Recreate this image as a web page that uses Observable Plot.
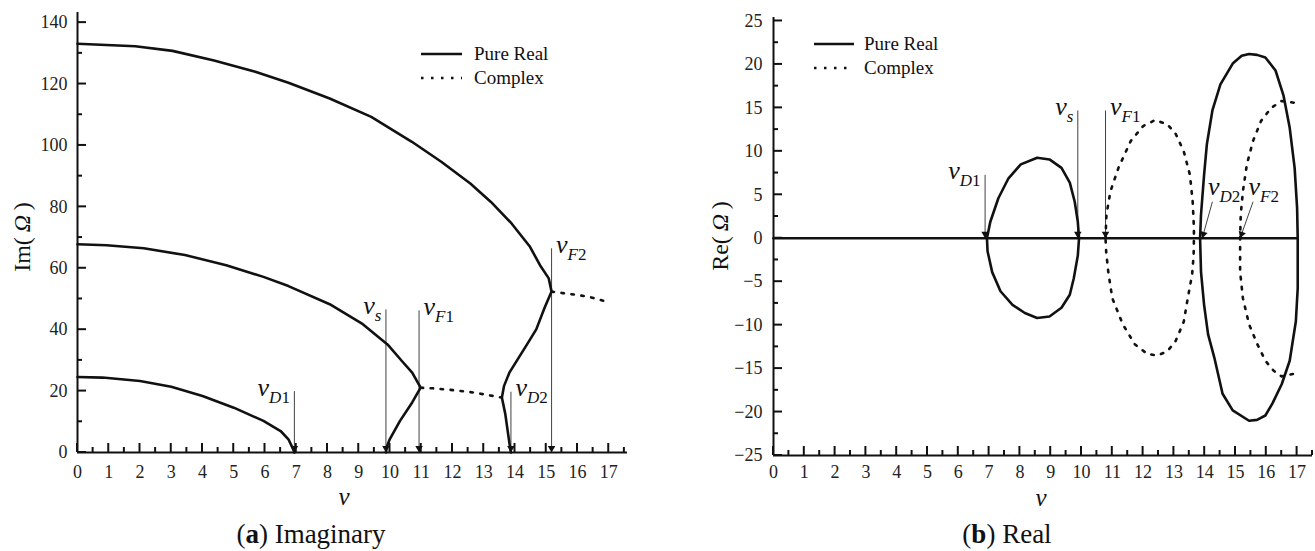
<!DOCTYPE html>
<html><head><meta charset="utf-8">
<script src="https://cdn.jsdelivr.net/npm/d3@7"></script>
<script src="https://cdn.jsdelivr.net/npm/@observablehq/plot@0.6"></script>
<style>
body{margin:0;background:#fff;width:1315px;height:551px;position:relative;overflow:hidden;font-family:"Liberation Serif",serif;}
#left,#right{position:absolute;top:0;}
#left{left:0px} #right{left:660px}
.cap{position:absolute;top:517px;font-size:27px;line-height:34px;transform:translateX(-50%);white-space:nowrap;color:#111;font-family:"Liberation Serif",serif;}
</style></head><body>
<div id="left"></div><div id="right"></div>
<div class="cap" style="left:311px">(<b>a</b>) Imaginary</div>
<div class="cap" style="left:1007px">(<b>b</b>) Real</div>
<script>
// ---------- shared tick labels ----------
const xTicks = [0,1,2,3,4,5,6,7,8,9,10,11,12,13,14,15,16,17];
const xMinor = [0.5,1.5,2.5,3.5,4.5,5.5,6.5,7.5,8.5,9.5,10.5,11.5,12.5,13.5,14.5,15.5,16.5,17.5];

// ---------- (a) Imaginary ----------
const imYTicks = [0,20,40,60,80,100,120,140];
const imYMinor = [10,30,50,70,90,110,130];

// mode 1 (pure real)
const im1V = [0,0.8,2.0,3.0,4.0,5.0,5.95,6.5,6.75,6.9,6.94];
const im1  = [24.6,24.4,23.3,21.4,18.4,14.6,10.3,7.0,4.3,1.1,0];
// mode 2 (pure real)
const im2V = [0,0.93,2.12,3.44,4.76,5.95,6.75,8.07,9.13,9.92,10.38,10.71,10.98,10.71,10.32,9.99,9.89,9.87];
const im2  = [67.8,67.5,66.5,64.3,61,57.2,54.2,48.3,41.8,35.2,29.8,26,21.1,16.3,10.3,4.3,1.6,0];
// mode 2 (complex)
const im2cV = [10.98,11.38,12.04,12.7,13.2,13.58];
const im2c  = [21.1,20.9,20.3,19.5,18.6,17.9];
// mode 3 (pure real)
const im3V = [13.87,13.85,13.78,13.69,13.58,13.65,13.82,14.09,14.42,14.68,14.95,15.17,15.08,14.8,14.48,13.89,13.23,12.57,11.64,10.7,9.4,8.07,6.75,5.69,4.37,3.04,1.85,0];
const im3  = [0,1.1,6,12.5,17.9,21.7,26,30.4,35.8,40.1,47.2,52.4,56.7,61,67,74.6,81.6,87.6,94.7,101.2,109.3,115.3,120.4,124,127.7,130.8,132.3,133.1];
// mode 3 (complex)
const im3cV = [15.17,15.54,16.0,16.4,16.87];
const im3c  = [52.4,51.9,51.3,50.6,49.3];

// critical speed markers
const imMarkV   = [6.94,9.87,10.93,13.87,15.17];
const imMarkTop = [20,46.6,46.3,19.8,66.5];
const markSub   = ["D1","s","F1","D2","F2"];
const markSide  = ["left","left","right","right","right"];

// ---------- (b) Real ----------
const reYTicks = [-25,-20,-15,-10,-5,0,5,10,15,20,25];
const reYMinor = [-22.5,-17.5,-12.5,-7.5,-2.5,2.5,7.5,12.5,17.5,22.5];

const reZeroV = [0,17];
const reZero  = [0,0];
// loop 1 (pure real)
const re1V = [6.93,7.04,7.3,7.63,8.03,8.56,8.96,9.35,9.62,9.78,9.88,9.92,9.88,9.75,9.62,9.35,8.96,8.56,8.16,7.76,7.37,7.1,6.95,6.93];
const re1  = [0,1.9,4.6,6.9,8.5,9.26,9.07,8.1,6.4,4.2,1.9,0,-2.0,-4.6,-6.5,-8.0,-9.0,-9.17,-8.6,-7.66,-6.1,-3.9,-1.5,0];
// loop 2 (complex)
const re2V = [10.78,10.81,10.94,11.2,11.6,12,12.39,12.79,13.06,13.32,13.52,13.61,13.65,13.65,13.64,13.59,13.45,13.32,13.06,12.79,12.46,12.13,11.73,11.34,11,10.87,10.8,10.78];
const re2  = [0,2.7,5.4,8.1,11.2,12.9,13.6,13.1,12,10,7.3,4.2,1.2,0,-2,-4.2,-6.9,-9.6,-11.8,-13,-13.5,-13.3,-12.2,-9.9,-6.9,-3.9,-1.5,0];
// loop 3 (pure real)
const re3V = [13.85,13.88,13.98,14.07,14.25,14.51,14.91,15.2,15.44,15.7,15.97,16.3,16.56,16.76,16.92,17,17.02,17.02,16.96,16.76,16.5,16.2,15.97,15.7,15.44,14.91,14.58,14.31,14.11,13.98,13.88,13.85];
const re3  = [0,2.7,7.3,10.8,14.7,17.7,20.1,21,21.2,21.1,20.8,19.3,16.4,12.7,8.1,3.5,0,-5.76,-9.55,-14.1,-16.8,-19.0,-20.4,-20.9,-21.0,-19.8,-17.9,-13.7,-11.07,-7.66,-3.86,0];
// loop 4 (complex)
const re4V = [16.89,16.5,16.16,15.83,15.57,15.37,15.24,15.17,15.15,15.15,15.24,15.44,15.71,15.97,16.24,16.5,16.89];
const re4  = [15.6,15.8,15,13.5,11.2,8.5,5.4,2.7,0,-3.86,-6.9,-9.9,-12.2,-14.1,-15.25,-15.9,-15.6];

// markers (arrow start -> tip on the axis)
const reMarkV0  = [6.87,9.88,10.78,14.25,15.57];
const reMarkV1  = [6.87,9.88,10.78,13.92,15.15];
const reMarkTop = [7.3,14.7,14.7,4.2,4.2];
const reMarkSide = ["left","left","right","slant","slant"];

// ---------- helpers ----------
const INK = "#111";
const LW = 2.6;
const DOT = "2.5,7.5";
const styleBase = {fontFamily: "Liberation Serif", fontSize: "18px", color: "#222", background: "white", overflow: "visible"};
const fmt = d => d < 0 ? "\u2212" + Math.abs(d) : String(d);

// filled arrow heads (triangles) at the tips of marker arrows
function headMarks(table, kxPx, kyPx) {
  const r = 2.8, back = 1.55 * r;
  return table.map(m => {
    const ang = Math.atan2((m.v0 - m.v1) * kxPx, m.top * kyPx); // lean from vertical, pixels
    return Plot.dot([m], {x: "v1", y: 0, symbol: "triangle", r, fill: INK, stroke: "none",
      rotate: 180 + ang * 180 / Math.PI,
      dx: back * Math.sin(ang), dy: -back * Math.cos(ang)});
  });
}

// inward axis ticks, placed through the plot's own x and y scales
function addTicks(svg, sx, sy, x0, y0, yMajor, yMinor) {
  const g = d3.select(svg).append("g").attr("stroke", INK).attr("stroke-width", 2);
  const bx = sx.apply(x0), by = sy.apply(y0);
  [[xMinor, 5], [xTicks, 9]].forEach(([arr, len]) => arr.forEach(t => {
    const x = sx.apply(t);
    g.append("line").attr("stroke", INK).attr("x1", x).attr("x2", x).attr("y1", by).attr("y2", by - len);
  }));
  [[yMinor, 5], [yMajor, 9]].forEach(([arr, len]) => arr.forEach(t => {
    const y = sy.apply(t);
    g.append("line").attr("stroke", INK).attr("x1", bx).attr("x2", bx + len).attr("y1", y).attr("y2", y);
  }));
}

function addVLabel(svg, x, y, sub, anchor) {
  const t = d3.select(svg).append("text")
    .attr("x", x).attr("y", y)
    .attr("text-anchor", anchor)
    .attr("font-family", "Liberation Serif").attr("fill", INK);
  t.append("tspan").attr("font-style", "italic").attr("font-size", 26).text("v");
  const letter = sub.replace(/[0-9]/g, ""), digit = sub.replace(/[^0-9]/g, "");
  t.append("tspan").attr("font-style", "italic").attr("font-size", 17).attr("dy", 7).text(letter);
  if (digit) t.append("tspan").attr("font-size", 17).text(digit);
}

function addLegend(svg, x0, x1, tx, y0, y1) {
  const g = d3.select(svg).append("g");
  g.append("line").attr("x1", x0).attr("x2", x1).attr("y1", y0).attr("y2", y0)
    .attr("stroke", INK).attr("stroke-width", LW);
  g.append("line").attr("x1", x0).attr("x2", x1).attr("y1", y1).attr("y2", y1)
    .attr("stroke", INK).attr("stroke-width", LW).attr("stroke-dasharray", DOT);
  [["Pure Real", y0], ["Complex", y1]].forEach(([s, y]) => {
    g.append("text").attr("x", tx).attr("y", y).attr("dy", "0.32em").attr("text-anchor", "start")
      .attr("font-size", 19).attr("font-family", "Liberation Serif").attr("fill", INK).text(s);
  });
}

function addTitles(svg, yx, yy, yName, vx, vy) {
  const s = d3.select(svg);
  const t = s.append("text").attr("transform", `translate(${yx},${yy}) rotate(-90)`)
    .attr("text-anchor", "middle").attr("dy", "0.32em")
    .attr("font-size", 24).attr("font-family", "Liberation Serif").attr("fill", INK);
  t.append("tspan").text(yName + "(");
  t.append("tspan").attr("font-style", "italic").text("\u2009\u03A9\u2009");
  t.append("tspan").text(")");
  s.append("text").attr("x", vx).attr("y", vy).attr("text-anchor", "middle").attr("dy", "0.32em")
    .attr("font-size", 25).attr("font-style", "italic").attr("font-family", "Liberation Serif")
    .attr("fill", INK).text("v");
}

// ---------- (a) ----------
{
  const width = 650, height = 510, mT = 12, mL = 77, mR = 23, mB = 58;
  const W = width - mL - mR, H = height - mT - mB;
  const xDom = [0, 17.6], yDom = [0, 143.3];
  const imMarks = imMarkV.map((v, i) => ({v0: v, v1: v, top: imMarkTop[i]}));
  const plot = Plot.plot({
    width, height, marginTop: mT, marginLeft: mL, marginRight: mR, marginBottom: mB,
    x: {domain: xDom},
    y: {domain: yDom},
    style: styleBase,
    marks: [
      Plot.axisX({ticks: xTicks, tickSize: 0, tickPadding: 13, fontSize: 18, label: null, tickFormat: fmt}),
      Plot.axisY({ticks: imYTicks, tickSize: 0, tickPadding: 10, fontSize: 18, label: null, tickFormat: fmt}),
      Plot.ruleX([0], {stroke: INK, strokeWidth: 2}),
      Plot.ruleY([0], {stroke: INK, strokeWidth: 2}),
      Plot.line(im1, {x: im1V, y: im1, stroke: INK, strokeWidth: LW}),
      Plot.line(im2, {x: im2V, y: im2, stroke: INK, strokeWidth: LW}),
      Plot.line(im3, {x: im3V, y: im3, stroke: INK, strokeWidth: LW}),
      Plot.line(im2c, {x: im2cV, y: im2c, stroke: INK, strokeWidth: LW, strokeDasharray: DOT}),
      Plot.line(im3c, {x: im3cV, y: im3c, stroke: INK, strokeWidth: LW, strokeDasharray: DOT}),
      Plot.link(imMarks, {x1: "v0", y1: "top", x2: "v1", y2: 0, stroke: INK, strokeWidth: 0.8}),
      ...headMarks(imMarks, W / (xDom[1] - xDom[0]), H / (yDom[1] - yDom[0]))
    ]
  });
  document.getElementById("left").appendChild(plot);
  const sx = plot.scale("x"), sy = plot.scale("y");
  addTicks(plot, sx, sy, xDom[0], yDom[0], imYTicks, imYMinor);
  imMarks.forEach((m, i) => {
    const x = sx.apply(m.v0), y = sy.apply(m.top) + 5;
    if (markSide[i] === "left") addVLabel(plot, x - 4, y, markSub[i], "end");
    else addVLabel(plot, x + 5, y, markSub[i], "start");
  });
  addLegend(plot, 421, 462, 474, 54, 78);
  addTitles(plot, 22, 237, "Im", 344, 497);
}

// ---------- (b) ----------
{
  const width = 655, height = 510, mT = 17, mL = 113, mR = 3, mB = 55;
  const W = width - mL - mR, H = height - mT - mB;
  const xDom = [0, 17.5], yDom = [-25, 25.4];
  const reMarks = reMarkV0.map((v, i) => ({v0: v, v1: reMarkV1[i], top: reMarkTop[i]}));
  const plot = Plot.plot({
    width, height, marginTop: mT, marginLeft: mL, marginRight: mR, marginBottom: mB,
    x: {domain: xDom},
    y: {domain: yDom},
    style: styleBase,
    marks: [
      Plot.axisX({ticks: xTicks, tickSize: 0, tickPadding: 10, fontSize: 18, label: null, tickFormat: fmt}),
      Plot.axisY({ticks: reYTicks, tickSize: 0, tickPadding: 11, fontSize: 18, label: null, tickFormat: fmt}),
      Plot.ruleX([0], {stroke: INK, strokeWidth: 2}),
      Plot.ruleY([-25], {stroke: INK, strokeWidth: 2}),
      Plot.line(reZero, {x: reZeroV, y: reZero, stroke: INK, strokeWidth: LW}),
      Plot.line(re1, {x: re1V, y: re1, stroke: INK, strokeWidth: LW}),
      Plot.line(re3, {x: re3V, y: re3, stroke: INK, strokeWidth: LW}),
      Plot.line(re2, {x: re2V, y: re2, stroke: INK, strokeWidth: LW, strokeDasharray: DOT}),
      Plot.line(re4, {x: re4V, y: re4, stroke: INK, strokeWidth: LW, strokeDasharray: DOT}),
      Plot.link(reMarks, {x1: "v0", y1: "top", x2: "v1", y2: 0, stroke: INK, strokeWidth: 0.8}),
      ...headMarks(reMarks, W / (xDom[1] - xDom[0]), H / (yDom[1] - yDom[0]))
    ]
  });
  document.getElementById("right").appendChild(plot);
  const sx = plot.scale("x"), sy = plot.scale("y");
  addTicks(plot, sx, sy, xDom[0], yDom[0], reYTicks, reYMinor);
  reMarks.forEach((m, i) => {
    const x = sx.apply(m.v0), y = sy.apply(m.top);
    if (reMarkSide[i] === "left") addVLabel(plot, x - 4, y + 5, markSub[i], "end");
    else if (reMarkSide[i] === "right") addVLabel(plot, x + 5, y + 5, markSub[i], "start");
    else addVLabel(plot, x - 4, y - 6, markSub[i], "start");
  });
  addLegend(plot, 154, 194, 204, 44, 68);
  addTitles(plot, 60, 236, "Re", 381, 498);
}
</script></body></html>
